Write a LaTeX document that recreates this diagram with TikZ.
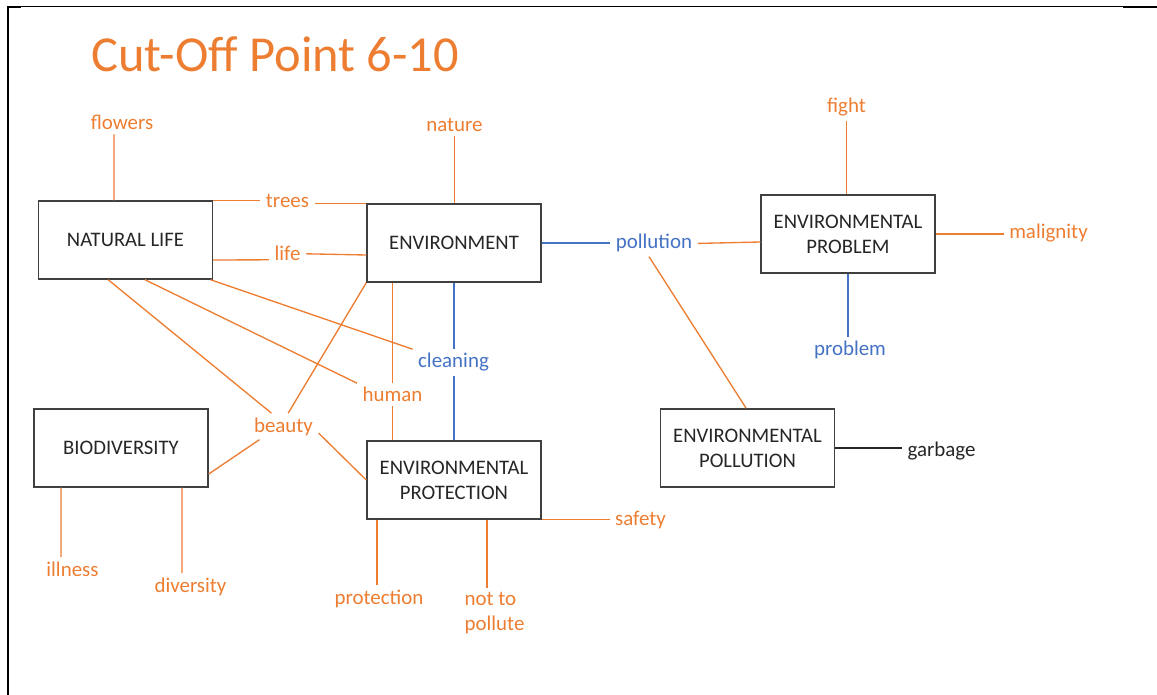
\documentclass[tikz,border=0pt]{standalone}
\usepackage{fontspec}
\setmainfont{Carlito}
\definecolor{orng}{HTML}{ED7D31}
\definecolor{blu}{HTML}{4472C4}
\definecolor{boxc}{HTML}{404040}
\definecolor{txtc}{HTML}{262626}
\begin{document}
\begin{tikzpicture}[x=0.75pt,y=-0.75pt,
 box/.style={draw=boxc, line width=1.1pt, minimum width=130.5pt, minimum height=58.5pt, inner sep=0pt, align=center, text=txtc, font=\fontsize{15.5}{18.75}\selectfont},
 lbl/.style={text=orng, inner xsep=4pt, inner ysep=3pt, font=\fontsize{15.7}{18.75}\selectfont},
 blbl/.style={lbl, text=blu},
 klbl/.style={lbl, text=txtc},
 oline/.style={draw=orng, line width=1pt},
 bline/.style={draw=blu, line width=1pt},
 kline/.style={draw=txtc, line width=1pt},
 frame/.style={draw=black}]
\useasboundingbox (0,0) rectangle (1157,695);
% frame
\draw[frame, line width=0.75pt] (7,6.5) -- (1123,6.5);
\draw[frame, line width=1.5pt] (1123,7) -- (1157,7);
\draw[frame, line width=1.5pt] (7,7) -- (21,7);
\draw[frame, line width=1.5pt] (8,6) -- (8,695);
% title
\node[anchor=base west, inner sep=0pt, text=orng, font=\fontsize{37.8}{44}\selectfont] (title) at (91,72) {Cut-Off Point 6-10};
% boxes
\node[box] (NL) at (125.5,240) {NATURAL LIFE};
\node[box] (ENV) at (454,243) {ENVIRONMENT};
\node[box] (PROB) at (848,234) {ENVIRONMENTAL\\PROBLEM};
\node[box] (BIO) at (121,448) {BIODIVERSITY};
\node[box] (PROT) at (454,480) {ENVIRONMENTAL\\PROTECTION};
\node[box] (POLL) at (747.5,448) {ENVIRONMENTAL\\POLLUTION};
% labels
\node[lbl, anchor=base] (flowers) at (122,130) {flowers};
\node[lbl, anchor=base] (trees) at (287.5,208) {trees};
\node[lbl, anchor=base] (life) at (287.5,261) {life};
\node[lbl, anchor=base] (nature) at (454.5,132) {nature};
\node[blbl, anchor=base] (pollution) at (654,249) {pollution};
\node[lbl, anchor=base] (fight) at (846.5,113) {fight};
\node[lbl, anchor=base] (malignity) at (1048.5,239) {malignity};
\node[blbl, anchor=base] (problem) at (850,356) {problem};
\node[blbl, anchor=base] (cleaning) at (453.5,368) {cleaning};
\node[lbl, anchor=base] (human) at (392.5,402) {human};
\node[lbl, anchor=base] (beauty) at (283.5,432) {beauty};
\node[klbl, anchor=base] (garbage) at (941.5,456) {garbage};
\node[lbl, anchor=base] (safety) at (640.5,525) {safety};
\node[lbl, anchor=base] (illness) at (72.5,576) {illness};
\node[lbl, anchor=base] (diversity) at (190.5,592) {diversity};
\node[lbl, anchor=base] (protection) at (379,604) {protection};
\node[lbl, anchor=north west, align=left] (notto) at (459,588) {not to\\pollute};
% connectors
\draw[oline] ([xshift=-6pt]flowers.south) -- ([xshift=-8.6pt]NL.north);
\draw[oline] (NL.north east) -- (NL.north east -| trees.west);
\draw[oline] (trees.east |- ENV.north west) -- (ENV.north west);
\draw[oline] ([yshift=-15pt]NL.east) -- ([yshift=-4.5pt]life.west);
\draw[oline] (life.east) -- ([yshift=-9pt]ENV.west);
\draw[oline] (nature.south) -- (nature.south |- ENV.north);
\draw[bline] (ENV.east) -- (ENV.east -| pollution.west);
\draw[oline] (pollution.east) -- ([yshift=-6pt]PROB.west);
\draw[oline] ([xshift=-3.75pt]pollution.south) -- ([xshift=-1pt]POLL.north);
\draw[oline] (fight.south) -- (fight.south |- PROB.north);
\draw[oline] (PROB.east) -- (PROB.east -| malignity.west);
\draw[bline] (PROB.south) -- (PROB.south |- problem.north);
\draw[oline] ([xshift=-2pt]NL.south east) -- (cleaning.north west);
\draw[oline] ([xshift=14.6pt]NL.south) -- (human.north west);
\draw[oline] ([xshift=-13pt]NL.south) -- ([xshift=-9pt]beauty.north);
\draw[oline] (ENV.south west) -- ([xshift=3.5pt]beauty.north);
\draw[oline] (ENV.south -| human.north) -- (human.north);
\draw[oline] (human.south) -- (human.south |- PROT.north);
\draw[bline] (ENV.south) -- (ENV.south |- cleaning.north);
\draw[bline] (PROT.north |- cleaning.south) -- (PROT.north);
\draw[oline] ([xshift=-18pt]beauty.south) -- ([yshift=-19.5pt]BIO.east);
\draw[oline] ([yshift=-5pt]beauty.east) -- (PROT.west);
\draw[oline] ([xshift=-45pt]BIO.south) -- ([xshift=-8.6pt]illness.north);
\draw[oline] ([xshift=45.75pt]BIO.south) -- ([xshift=-6.4pt]diversity.north);
\draw[oline] ([xshift=-57.75pt]PROT.south) -- ([xshift=-1.5pt]protection.north);
\draw[oline] ([xshift=24.75pt]PROT.south) -- ([xshift=21pt]notto.north west);
\draw[oline] (PROT.south east) -- (PROT.south east -| safety.west);
\draw[kline] (POLL.east) -- (POLL.east -| garbage.west);
\end{tikzpicture}
\end{document}
